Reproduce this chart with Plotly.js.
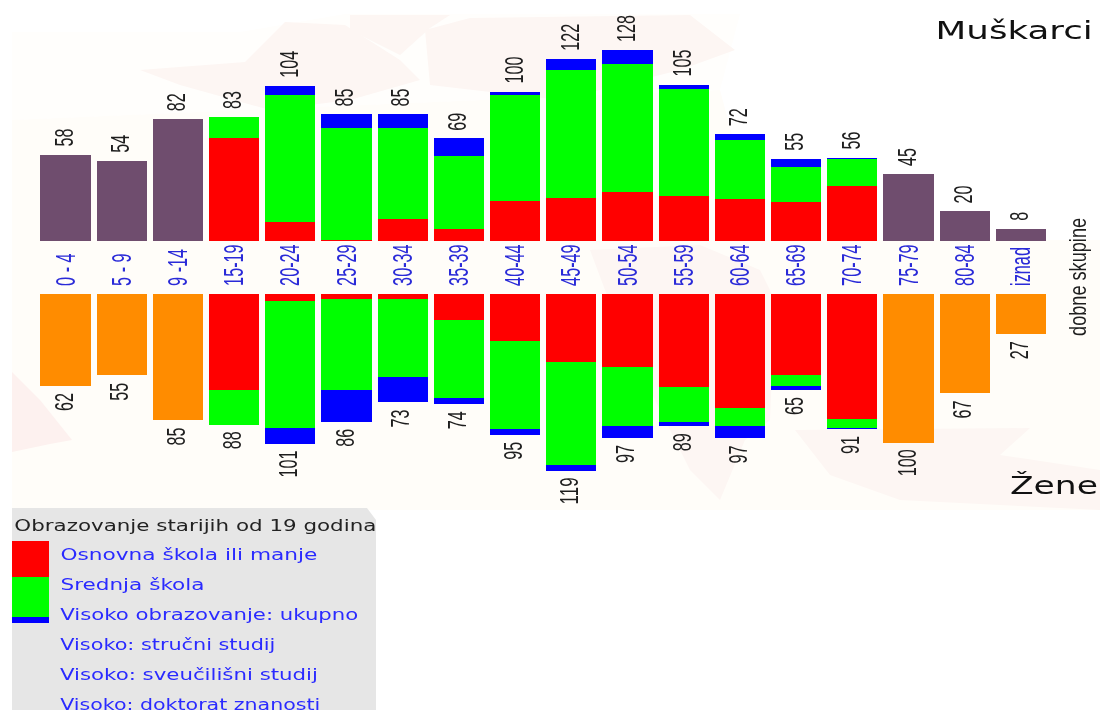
<!DOCTYPE html>
<html><head><meta charset="utf-8">
<script src="https://cdn.plot.ly/plotly-3.0.1.min.js"></script>
<style>html,body{margin:0;padding:0;background:#fff;overflow:hidden}#c{width:1100px;height:710px;filter:blur(0.5px)}</style>
</head><body><div id="c"></div>
<script>
const ageGroups=['0 - 4','5 - 9','9 -14','15-19','20-24','25-29','30-34','35-39','40-44','45-49','50-54','55-59','60-64','65-69','70-74','75-79','80-84','iznad'];
const maleTotals=[58,54,82,83,104,85,85,69,100,122,128,105,72,55,56,45,20,8];
const femaleTotals=[62,55,85,88,101,86,73,74,95,119,97,89,97,65,91,100,67,27];
const maleOther=[58,54,82,null,null,null,null,null,null,null,null,null,null,null,null,45,20,8];
const maleBasic=[null,null,null,69,13,1,15,8,27,29,33,30,28,26,37,null,null,null];
const maleSecondary=[null,null,null,14,85,75,61,49,71,86,86,72,40,24,18,null,null,null];
const maleHigher=[null,null,null,0,6,9,9,12,2,7,9,3,4,5,1,null,null,null];
const femaleOther=[62,55,85,null,null,null,null,null,null,null,null,null,null,null,null,100,67,27];
const femaleBasic=[null,null,null,65,5,4,4,18,32,46,49,63,77,55,84,null,null,null];
const femaleSecondary=[null,null,null,23,85,61,52,52,59,69,40,23,12,7,6,null,null,null];
const femaleHigher=[null,null,null,0,11,21,17,4,4,4,8,3,8,3,1,null,null,null];
const legendTitle='Obrazovanje starijih od 19 godina';
const legendItems=['Osnovna škola ili manje','Srednja škola','Visoko obrazovanje: ukupno','Visoko: stručni studij','Visoko: sveučilišni studij','Visoko: doktorat znanosti'];
const legendWidths=[257,144,298,215,258,260];
const W=1100,H=710,pxPerUnit=1.49,topBase=241,botBase=293.5,botEnd=510;
const RED='#ff0000',GREEN='#00ff00',BLUE='#0000ff',PURPLE='#6f4d6e',ORANGE='#ff8c00';
const NARROW='Liberation Sans, Arial, sans-serif';
const WIDE='DejaVu Sans, Verdana, sans-serif';
const SQUEEZE=0.58;
function bar(y,color,ya,name){return {type:'bar',x:ageGroups,y:y,xaxis:'x',yaxis:ya,name:name,width:0.89,marker:{color:color,line:{width:0}},hoverinfo:'x+y',showlegend:false};}
const data=[
 bar(maleOther,PURPLE,'y','Ukupno'),bar(maleBasic,RED,'y',legendItems[0]),bar(maleSecondary,GREEN,'y',legendItems[1]),bar(maleHigher,BLUE,'y',legendItems[2]),
 bar(femaleOther,ORANGE,'y2','Ukupno'),bar(femaleBasic,RED,'y2',legendItems[0]),bar(femaleSecondary,GREEN,'y2',legendItems[1]),bar(femaleHigher,BLUE,'y2',legendItems[2])
];
function poly(pts,fill,layer){const d=pts.map((p,i)=>(i?'L':'M')+(p[0]/W)+','+(1-p[1]/H)).join(' ')+' Z';return {type:'path',xref:'paper',yref:'paper',path:d,fillcolor:fill,line:{width:0},layer:layer||'below'};}
function rect(x0,y0,x1,y1,fill){return {type:'rect',xref:'paper',yref:'paper',x0:x0/W,x1:x1/W,y0:1-y0/H,y1:1-y1/H,fillcolor:fill,line:{width:0},layer:'above'};}
const PINK='#fdf6f3',CREAM='#fffdf9';
const shapes=[
 poly([[12,32],[240,32],[345,14],[740,14],[720,90],[12,120]],'#fffefc'),
 poly([[12,120],[720,90],[760,240],[1100,240],[1100,510],[12,510]],CREAM),
 poly([[140,70],[245,62],[285,22],[345,25],[400,60],[420,80],[350,100],[270,110],[180,85]],PINK),
 poly([[350,15],[450,15],[430,28],[400,55],[350,30]],PINK),
 poly([[425,30],[470,18],[690,15],[735,50],[680,70],[560,100],[430,85]],PINK),
 poly([[12,372],[40,400],[72,440],[50,444],[12,452]],'#fdf1ef'),
 poly([[590,250],[700,245],[760,270],[775,300],[770,420],[745,440],[720,500],[690,470],[620,330]],PINK),
 poly([[795,430],[1030,428],[1000,455],[1100,470],[1100,510],[900,500],[830,475]],PINK),
 poly([[12,508],[367,508],[376,520],[376,710],[12,710]],'#e6e6e6','above'),
 rect(12,541,49,577,RED),rect(12,577,49,617,GREEN),rect(12,617,49,623,BLUE)
];
const anns=[],annFit=[];
function digitsLen(v){return String(v).length*9;}
ageGroups.forEach((g,i)=>{
 anns.push({x:g,y:maleTotals[i],xref:'x',yref:'y',text:String(maleTotals[i]),textangle:-90,showarrow:false,yanchor:'middle',xanchor:'center',yshift:8+digitsLen(maleTotals[i])/2,xshift:-2,font:{family:NARROW,size:26,color:'#1e1e1e'}});
 annFit.push(digitsLen(maleTotals[i]));
 anns.push({x:g,y:femaleTotals[i],xref:'x',yref:'y2',text:String(femaleTotals[i]),textangle:-90,showarrow:false,yanchor:'middle',xanchor:'center',yshift:-(7+digitsLen(femaleTotals[i])/2),xshift:-2,font:{family:NARROW,size:26,color:'#1e1e1e'}});
 annFit.push(digitsLen(femaleTotals[i]));
});
function label(text,cx,py,font,fit,angle){anns.push({xref:'paper',yref:'paper',x:cx/W,y:1-py/H,text:text,showarrow:false,xanchor:'center',yanchor:'middle',textangle:angle||0,font:font});annFit.push(fit);}
label('Muškarci',1014,31,{family:WIDE,size:25,color:'#111'},157);
label('Žene',1054,485,{family:WIDE,size:25,color:'#111'},88);
label('dobne skupine',1078,277,{family:NARROW,size:24,color:'#1e1e1e'},118,-90);
label(legendTitle,195,525,{family:WIDE,size:16,color:'#222'},362);
legendItems.forEach((t,i)=>label(t,60+legendWidths[i]/2,554.5+i*29.9,{family:WIDE,size:16,color:'#2a2aff'},legendWidths[i]));
const layout={
 width:W,height:H,margin:{l:0,r:0,t:0,b:0,pad:0},paper_bgcolor:'#ffffff',plot_bgcolor:'rgba(0,0,0,0)',barmode:'stack',showlegend:false,
 xaxis:{type:'category',categoryorder:'array',categoryarray:ageGroups,range:[-65.5/56.2,(W-65.5)/56.2],anchor:'y2',side:'top',tickangle:-90,tickmode:'array',tickvals:ageGroups,ticktext:ageGroups,ticks:'outside',ticklen:1,tickcolor:'rgba(0,0,0,0)',tickfont:{family:NARROW,size:28,color:'#2a2ad8'},showgrid:false,zeroline:false,showline:false},
 yaxis:{domain:[1-topBase/H,1],range:[0,topBase/pxPerUnit],visible:false,anchor:'x'},
 yaxis2:{domain:[1-botEnd/H,1-botBase/H],range:[(botEnd-botBase)/pxPerUnit,0],visible:false,anchor:'x'},
 shapes:shapes,annotations:anns
};
Plotly.newPlot('c',data,layout,{displayModeBar:false,staticPlot:true}).then(function(){
 document.querySelectorAll('.annotation-text').forEach(function(t,i){
  if(annFit[i]){t.setAttribute('textLength',annFit[i]);t.setAttribute('lengthAdjust','spacingAndGlyphs');}
 });
 document.querySelectorAll('.xtick text').forEach(function(t){
  t.setAttribute('textLength',t.getComputedTextLength()*SQUEEZE);t.setAttribute('lengthAdjust','spacingAndGlyphs');
 });
});
</script></body></html>
